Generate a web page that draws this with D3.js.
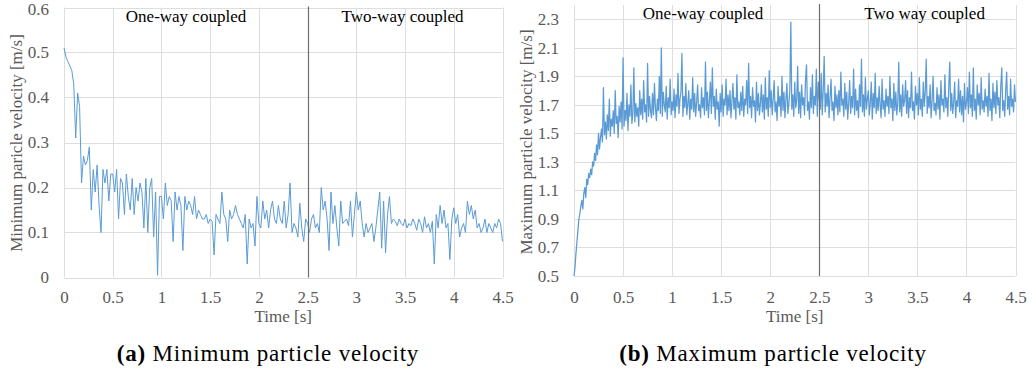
<!DOCTYPE html>
<html>
<head>
<meta charset="utf-8">
<script src="https://cdn.jsdelivr.net/npm/d3@7"></script>
<style>
  body { margin: 0; background: #fff; }
</style>
</head>
<body>
<svg id="chart" width="1032" height="378"></svg>
<script>
// Tick values shared by both panels
const timeTicks = [0, 0.5, 1, 1.5, 2, 2.5, 3, 3.5, 4, 4.5];
const minTicks = [0, 0.1, 0.2, 0.3, 0.4, 0.5, 0.6];
const maxTicks = [0.5, 0.7, 0.9, 1.1, 1.3, 1.5, 1.7, 1.9, 2.1, 2.3];

// Time at which the coupling changes
const couplingSwitch = 2.5;
const phaseLabelsMin = ["One-way coupled", "Two-way coupled"];
const phaseLabelsMax = ["One-way coupled", "Two way coupled"];

// Minimum particle velocity [m/s], sampled every 0.02 s
const minStep = 0.02;
const minVelocity = [
  0.51, 0.49, 0.48, 0.47, 0.46, 0.43, 0.31, 0.41, 0.38, 0.21,
  0.27, 0.25, 0.26, 0.29, 0.15, 0.24, 0.19, 0.25, 0.16, 0.10,
  0.24, 0.21, 0.24, 0.17, 0.23, 0.23, 0.19, 0.24, 0.13, 0.22,
  0.21, 0.14, 0.23, 0.18, 0.15, 0.22, 0.14, 0.20, 0.17, 0.21,
  0.19, 0.11, 0.22, 0.10, 0.20, 0.22, 0.09, 0.19, 0.005, 0.18,
  0.18, 0.13, 0.21, 0.16, 0.18, 0.17, 0.08, 0.19, 0.15, 0.18,
  0.16, 0.06, 0.18, 0.15, 0.17, 0.16, 0.14, 0.18, 0.13, 0.15,
  0.14, 0.13, 0.13, 0.14, 0.12, 0.13, 0.125, 0.05, 0.14, 0.13,
  0.12, 0.19, 0.14, 0.13, 0.08, 0.15, 0.13, 0.14, 0.16, 0.14,
  0.13, 0.12, 0.11, 0.14, 0.03, 0.13, 0.11, 0.12, 0.07, 0.18,
  0.12, 0.11, 0.17, 0.13, 0.15, 0.11, 0.15, 0.17, 0.13, 0.12,
  0.16, 0.13, 0.12, 0.17, 0.11, 0.14, 0.21, 0.10, 0.12, 0.11,
  0.09, 0.165, 0.11, 0.08, 0.13, 0.12, 0.10, 0.13, 0.14, 0.11,
  0.12, 0.10, 0.20, 0.15, 0.17, 0.13, 0.06, 0.19, 0.12, 0.16,
  0.11, 0.07, 0.17, 0.12, 0.125, 0.13, 0.115, 0.17, 0.09, 0.14,
  0.19, 0.15, 0.17, 0.12, 0.09, 0.12, 0.10, 0.11, 0.12, 0.08,
  0.11, 0.15, 0.19, 0.065, 0.17, 0.055, 0.14, 0.18, 0.12, 0.13,
  0.125, 0.115, 0.13, 0.12, 0.115, 0.13, 0.11, 0.12, 0.115, 0.13,
  0.12, 0.105, 0.13, 0.12, 0.10, 0.135, 0.11, 0.12, 0.10, 0.125,
  0.03, 0.14, 0.11, 0.16, 0.12, 0.15, 0.11, 0.12, 0.04, 0.13,
  0.155, 0.12, 0.14, 0.09, 0.11, 0.12, 0.10, 0.17, 0.14, 0.16,
  0.13, 0.15, 0.11, 0.12, 0.10, 0.11, 0.13, 0.10, 0.12, 0.11,
  0.10, 0.12, 0.11, 0.13, 0.12, 0.08
];

// Maximum particle velocity [m/s], sampled every 0.01 s
const maxStep = 0.01;
const maxVelocity = [
  0.50, 0.56, 0.66, 0.74, 0.82, 0.90, 0.94, 0.99, 1.03, 0.97,
  1.08, 1.12, 1.05, 1.18, 1.14, 1.22, 1.19, 1.25, 1.21, 1.30,
  1.27, 1.36, 1.31, 1.42, 1.35, 1.50, 1.39, 1.47, 1.53, 1.44,
  1.82, 1.49, 1.58, 1.46, 1.63, 1.52, 1.74, 1.48, 1.60, 1.55,
  1.66, 1.50, 1.80, 1.57, 1.62, 1.47, 1.69, 1.58, 1.72, 1.53,
  2.03, 1.55, 1.66, 1.59, 1.78, 1.52, 1.70, 1.62, 1.84, 1.57,
  1.64, 1.96, 1.58, 1.71, 1.62, 1.68, 1.55, 1.80, 1.63, 1.74,
  1.60, 1.87, 1.65, 1.70, 1.58, 1.99, 1.62, 1.76, 1.66, 1.61,
  1.78, 1.63, 1.85, 1.68, 1.59, 1.74, 1.66, 1.90, 1.64, 2.10,
  1.62, 1.79, 1.70, 1.65, 1.83, 1.60, 1.75, 1.68, 1.88, 1.63,
  1.72, 1.66, 1.81, 1.61, 1.77, 1.69, 1.92, 1.64, 1.74, 1.79,
  2.06, 1.62, 1.76, 1.68, 1.85, 1.63, 1.71, 1.80, 1.60, 1.74,
  1.67, 1.89, 1.65, 1.78, 1.62, 1.72, 1.84, 1.66, 1.70, 1.61,
  1.82, 1.68, 1.75, 1.63, 2.00, 1.66, 1.79, 1.61, 1.73, 1.86,
  1.64, 1.96, 1.69, 1.76, 1.60, 1.81, 1.67, 1.72, 1.55, 1.78,
  1.65, 1.84, 1.62, 1.74, 1.70, 1.88, 1.63, 1.77, 1.66, 1.80,
  1.61, 1.73, 1.85, 1.67, 1.75, 1.60, 1.91, 1.68, 1.72, 1.63,
  1.79, 1.66, 1.83, 1.62, 1.74, 1.70, 1.87, 1.64, 1.99, 1.68,
  1.76, 1.61, 1.82, 1.69, 1.73, 1.58, 1.86, 1.66, 1.78, 1.63,
  1.71, 1.84, 1.65, 1.77, 1.60, 1.89, 1.67, 1.75, 1.62, 1.94,
  1.68, 1.80, 1.63, 1.74, 1.87, 1.65, 1.72, 1.59, 1.83, 1.69,
  1.76, 1.62, 1.90, 1.66, 1.79, 1.61, 1.74, 1.85, 1.64, 1.71,
  1.80, 2.28, 1.67, 1.77, 1.62, 1.86, 1.68, 1.73, 1.97, 1.64,
  1.79, 1.61, 1.84, 1.70, 1.75, 1.63, 1.88, 1.98, 1.66, 1.72,
  1.60, 1.82, 1.68, 1.91, 1.64, 1.76, 1.70, 1.95, 1.62, 1.86,
  1.74, 1.67, 1.92, 1.63, 1.80, 2.04, 1.65, 1.78, 1.69, 1.84,
  1.61, 1.75, 1.88, 1.66, 1.72, 1.59, 1.83, 1.68, 1.77, 1.63,
  1.80, 1.65, 1.93, 1.70, 1.74, 1.62, 1.85, 1.67, 1.79, 1.60,
  1.72, 1.87, 1.64, 1.76, 1.68, 1.95, 1.63, 1.81, 1.66, 1.73,
  1.61, 1.84, 1.69, 2.02, 1.65, 1.77, 1.62, 1.89, 1.67, 1.74,
  1.80, 1.63, 1.71, 1.86, 1.60, 1.78, 1.68, 1.92, 1.64, 1.75,
  1.66, 1.83, 1.70, 1.61, 1.88, 1.67, 1.73, 1.62, 1.81, 1.69,
  1.76, 1.64, 1.90, 1.68, 1.74, 1.59, 1.85, 1.66, 1.79, 1.63,
  1.71, 2.00, 1.65, 1.77, 1.62, 1.84, 1.69, 1.73, 1.87, 1.64,
  1.80, 1.61, 1.75, 1.68, 1.93, 1.66, 1.72, 1.60, 1.83, 1.70,
  1.78, 1.63, 1.89, 1.67, 1.74, 1.62, 1.86, 1.69, 1.79, 2.02,
  1.64, 1.76, 1.68, 1.84, 1.61, 1.73, 1.90, 1.66, 1.71, 1.63,
  1.82, 1.67, 1.77, 1.60, 1.87, 1.70, 1.74, 1.65, 1.91, 1.68,
  1.75, 1.62, 1.83, 2.00, 1.66, 1.78, 1.64, 1.72, 1.86, 1.61,
  1.73, 1.69, 1.88, 1.65, 1.80, 1.63, 1.76, 1.58, 1.85, 1.67,
  1.71, 1.82, 1.64, 1.93, 1.68, 1.77, 1.62, 1.96, 1.66, 1.74,
  1.60, 1.84, 1.70, 1.78, 1.63, 1.89, 1.67, 1.73, 1.65, 1.81,
  1.69, 1.76, 1.62, 1.92, 1.66, 1.74, 1.59, 1.85, 1.68, 1.79,
  1.64, 1.87, 1.70, 1.75, 1.61, 1.83, 1.96, 1.66, 1.73, 1.62,
  1.80, 1.93, 1.67, 1.76, 1.63, 1.88, 1.69, 1.74, 1.65, 1.84,
  1.72
];

const FONT = "'Liberation Serif', 'Times New Roman', Tinos, 'DejaVu Serif', serif";
const GRID = "#dedede";
const LABEL = "#595959";
const SERIES = "#5b9bd5";

const svg = d3.select("#chart");
svg.append("rect").attr("width", 1032).attr("height", 378).attr("fill", "#fff");

function label(sel, size, fill) {
  return sel.style("font-family", FONT).style("font-size", size + "px").attr("fill", fill);
}

function drawPanel(p) {
  const x = d3.scaleLinear().domain([0, 4.5]).range([p.left, p.right]);
  const y = d3.scaleLinear().domain(p.yDomain).range([p.bottom, p.top]);
  const g = svg.append("g");

  // horizontal gridlines
  g.selectAll(null).data(p.yTicks).enter().append("line")
    .attr("x1", p.left).attr("x2", p.right)
    .attr("y1", d => Math.round(y(d)) + 0.5).attr("y2", d => Math.round(y(d)) + 0.5)
    .attr("stroke", GRID).attr("stroke-width", 1);

  // vertical gridlines
  g.selectAll(null).data(timeTicks).enter().append("line")
    .attr("x1", d => Math.round(x(d)) + 0.5).attr("x2", d => Math.round(x(d)) + 0.5)
    .attr("y1", p.top).attr("y2", p.bottom)
    .attr("stroke", GRID).attr("stroke-width", 1);

  // y axis labels
  const yAxis = d3.axisLeft(y).tickValues(p.yTicks).tickSize(0).tickPadding(15)
    .tickFormat(d => String(d));
  const ya = g.append("g").attr("transform", `translate(${p.left},0)`).call(yAxis);
  ya.select(".domain").remove();
  label(ya.selectAll("text"), 17, LABEL);
  // keep the topmost label inside the canvas
  ya.selectAll(".tick").each(function () {
    const t = d3.select(this);
    const box = this.getBBox();
    const ty = +t.attr("transform").match(/,\s*([-\d.]+)\)/)[1];
    if (ty + box.y < 0) t.select("text").attr("y", -(ty + box.y));
  });

  // x axis labels
  const xAxis = d3.axisBottom(x).tickValues(timeTicks).tickSize(0).tickPadding(0)
    .tickFormat(d => String(d));
  const xa = g.append("g").attr("transform", `translate(0,${p.tickBaseline})`).call(xAxis);
  xa.select(".domain").remove();
  label(xa.selectAll("text").attr("dy", 0).attr("y", 0), 17, LABEL);

  // series line
  const line = d3.line()
    .x((d, i) => x(i * p.step))
    .y(d => y(d));
  g.append("path").datum(p.values)
    .attr("d", line)
    .attr("fill", "none")
    .attr("stroke", SERIES)
    .attr("stroke-width", p.strokeWidth)
    .attr("stroke-linejoin", "round");

  // coupling switch marker
  const xs = Math.round(x(couplingSwitch)) + 0.5;
  g.append("line")
    .attr("x1", xs).attr("x2", xs).attr("y1", p.top - 1).attr("y2", p.bottom)
    .attr("stroke", "#6e6e6e").attr("stroke-width", 1.2);

  // phase annotations
  p.phases.forEach((t, i) => {
    label(g.append("text"), 17, "#000")
      .attr("x", p.phaseX[i]).attr("y", p.phaseY)
      .attr("text-anchor", "middle").text(t);
  });

  // axis titles
  label(g.append("text"), 17, LABEL)
    .attr("transform", `translate(${p.yTitleX},${p.yTitleY}) rotate(-90)`)
    .attr("text-anchor", "middle").text(p.yTitle);
  label(g.append("text"), 17, LABEL)
    .attr("x", (p.left + p.right) / 2).attr("y", 322)
    .attr("text-anchor", "middle").text("Time [s]");

  // sub-figure caption
  const cap = label(g.append("text"), 23, "#000")
    .attr("x", p.captionX).attr("y", 361)
    .attr("text-anchor", "middle")
    .style("letter-spacing", "0.8px");
  cap.append("tspan").attr("font-weight", "bold").text(p.captionTag);
  cap.append("tspan").text(" " + p.caption);
}

drawPanel({
  left: 64, right: 502.5, top: 7.5, bottom: 277.5,
  yDomain: [0, 0.6], yTicks: minTicks,
  values: minVelocity, step: minStep, strokeWidth: 1,
  tickBaseline: 303,
  phases: phaseLabelsMin, phaseX: [186, 402.5], phaseY: 21.5,
  yTitle: "Minimum paricle velocity [m/s]", yTitleX: 21.5, yTitleY: 143,
  captionX: 268, captionTag: "(a)", caption: "Minimum particle velocity"
});

drawPanel({
  left: 574, right: 1015.5, top: 5, bottom: 276,
  yDomain: [0.5, 2.4], yTicks: maxTicks,
  values: maxVelocity, step: maxStep, strokeWidth: 1.25,
  tickBaseline: 303,
  phases: phaseLabelsMax, phaseX: [703, 924.6], phaseY: 18.5,
  yTitle: "Maximum particle velocity [m/s]", yTitleX: 531.5, yTitleY: 142,
  captionX: 773, captionTag: "(b)", caption: "Maximum particle velocity"
});
</script>
</body>
</html>
